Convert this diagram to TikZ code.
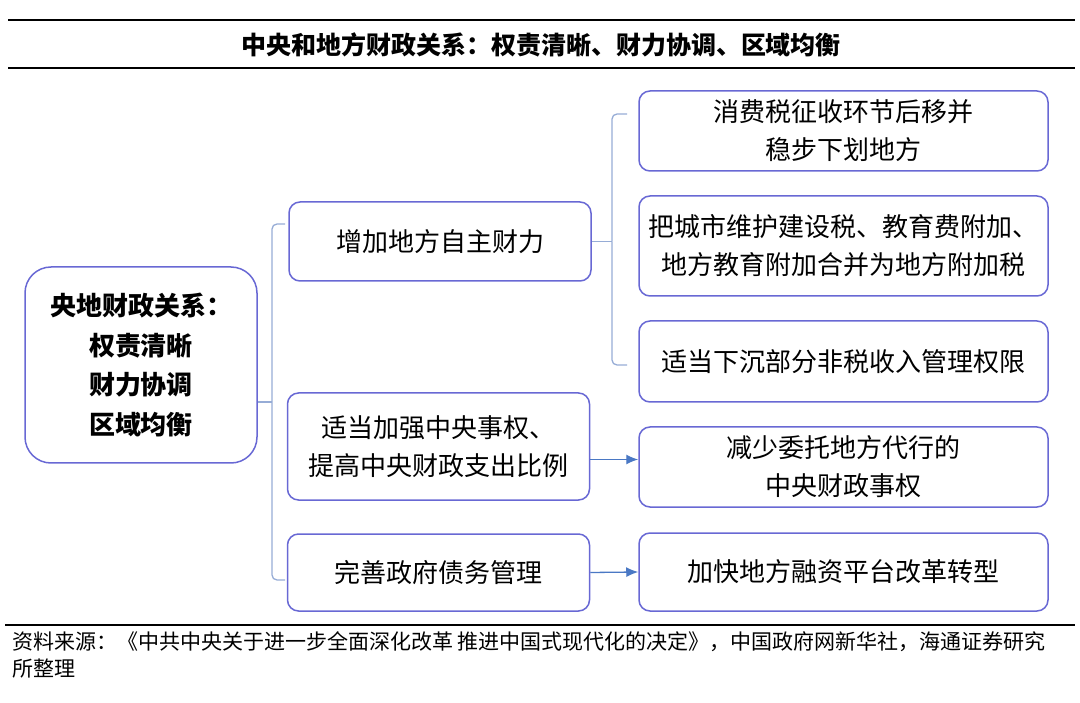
\documentclass[tikz,border=0pt]{standalone}
\usepackage{fontspec}
\setmainfont{Noto Sans CJK SC}
\usetikzlibrary{arrows.meta}
\definecolor{boxline}{RGB}{104,104,212}
\definecolor{braceline}{RGB}{150,172,214}
\definecolor{arrowline}{RGB}{74,120,196}
\begin{document}
\begin{tikzpicture}[x=1pt, y=-1pt,
  box/.style={draw=boxline, line width=1.5pt, rounded corners=11pt, align=center,
    inner sep=0pt, font=\fontsize{26}{38}\selectfont},
  rightbox/.style={box, minimum width=409pt},
  midbox/.style={box, minimum width=302pt},
  brace/.style={draw=braceline, line width=1.3pt, rounded corners=5pt},
  arr/.style={draw=arrowline, line width=1.3pt, -{Latex[length=12pt,width=10pt]}}]

\useasboundingbox (0,0) rectangle (1080,703);

\begin{scope}[line width=1.8pt]
\draw (8,20) -- (1075,20);
\draw (8,68) -- (1075,68);
\draw (5,625) -- (1075,625);
\end{scope}

\node (title) at (541,45) {\fontsize{25}{28}\selectfont\bfseries 中央和地方财政关系：权责清晰、财力协调、区域均衡};

\node [box, minimum width=232pt, minimum height=196pt, rounded corners=26pt,
  font=\fontsize{26}{39.5}\selectfont\bfseries] (root) at (141,365)
  {央地财政关系：\\权责清晰\\财力协调\\区域均衡};

\node [midbox, minimum height=79pt] (mid1) at (440,241.5) {增加地方自主财力};
\node [midbox, minimum height=107pt] (mid2) at (438.5,446.5) {适当加强中央事权、\\提高中央财政支出比例};
\node [midbox, minimum height=77pt] (mid3) at (438.5,572.5) {完善政府债务管理};

\node [rightbox, minimum height=80pt] (r1) at (843.5,131) {消费税征收环节后移并\\稳步下划地方};
\node [rightbox, minimum height=100pt] (r2) at (843.5,246) {把城市维护建设税、教育费附加、\\地方教育附加合并为地方附加税};
\node [rightbox, minimum height=81pt] (r3) at (843.5,361.5) {适当下沉部分非税收入管理权限};
\node [rightbox, minimum height=80pt] (r4) at (843.5,467) {减少委托地方代行的\\中央财政事权};
\node [rightbox, minimum height=78pt] (r5) at (843.5,572) {加快地方融资平台改革转型};

\node [anchor=north west, align=left, inner sep=0pt, font=\fontsize{21}{27}\selectfont] (note) at (12,631)
  {资料来源：《中共中央关于进一步全面深化改革\ 推进中国式现代化的决定》，中国政府网新华社，海通证券研究\\所整理};

\coordinate (lt) at (285,224);
\coordinate (lb) at (285,580);
\coordinate (lm) at (272,402);
\coordinate (rt) at (627,114);
\coordinate (rb) at (627,365);
\coordinate (rm) at (612,241.5);

\begin{scope}[brace]
\draw (lt) -| (lm);
\draw (lb) -| (lm);
\draw ([yshift=-37pt]root.east) -- (lm);
\draw (rt) -| (rm);
\draw (rb) -| (rm);
\draw (mid1.east) -- (rm);
\end{scope}

\draw [arr] ([yshift=-13pt]mid2.east) -- ([yshift=-13pt]mid2.east -| r4.west);
\draw [arr] (mid3.east) -- (r5.west);

\end{tikzpicture}
\end{document}
